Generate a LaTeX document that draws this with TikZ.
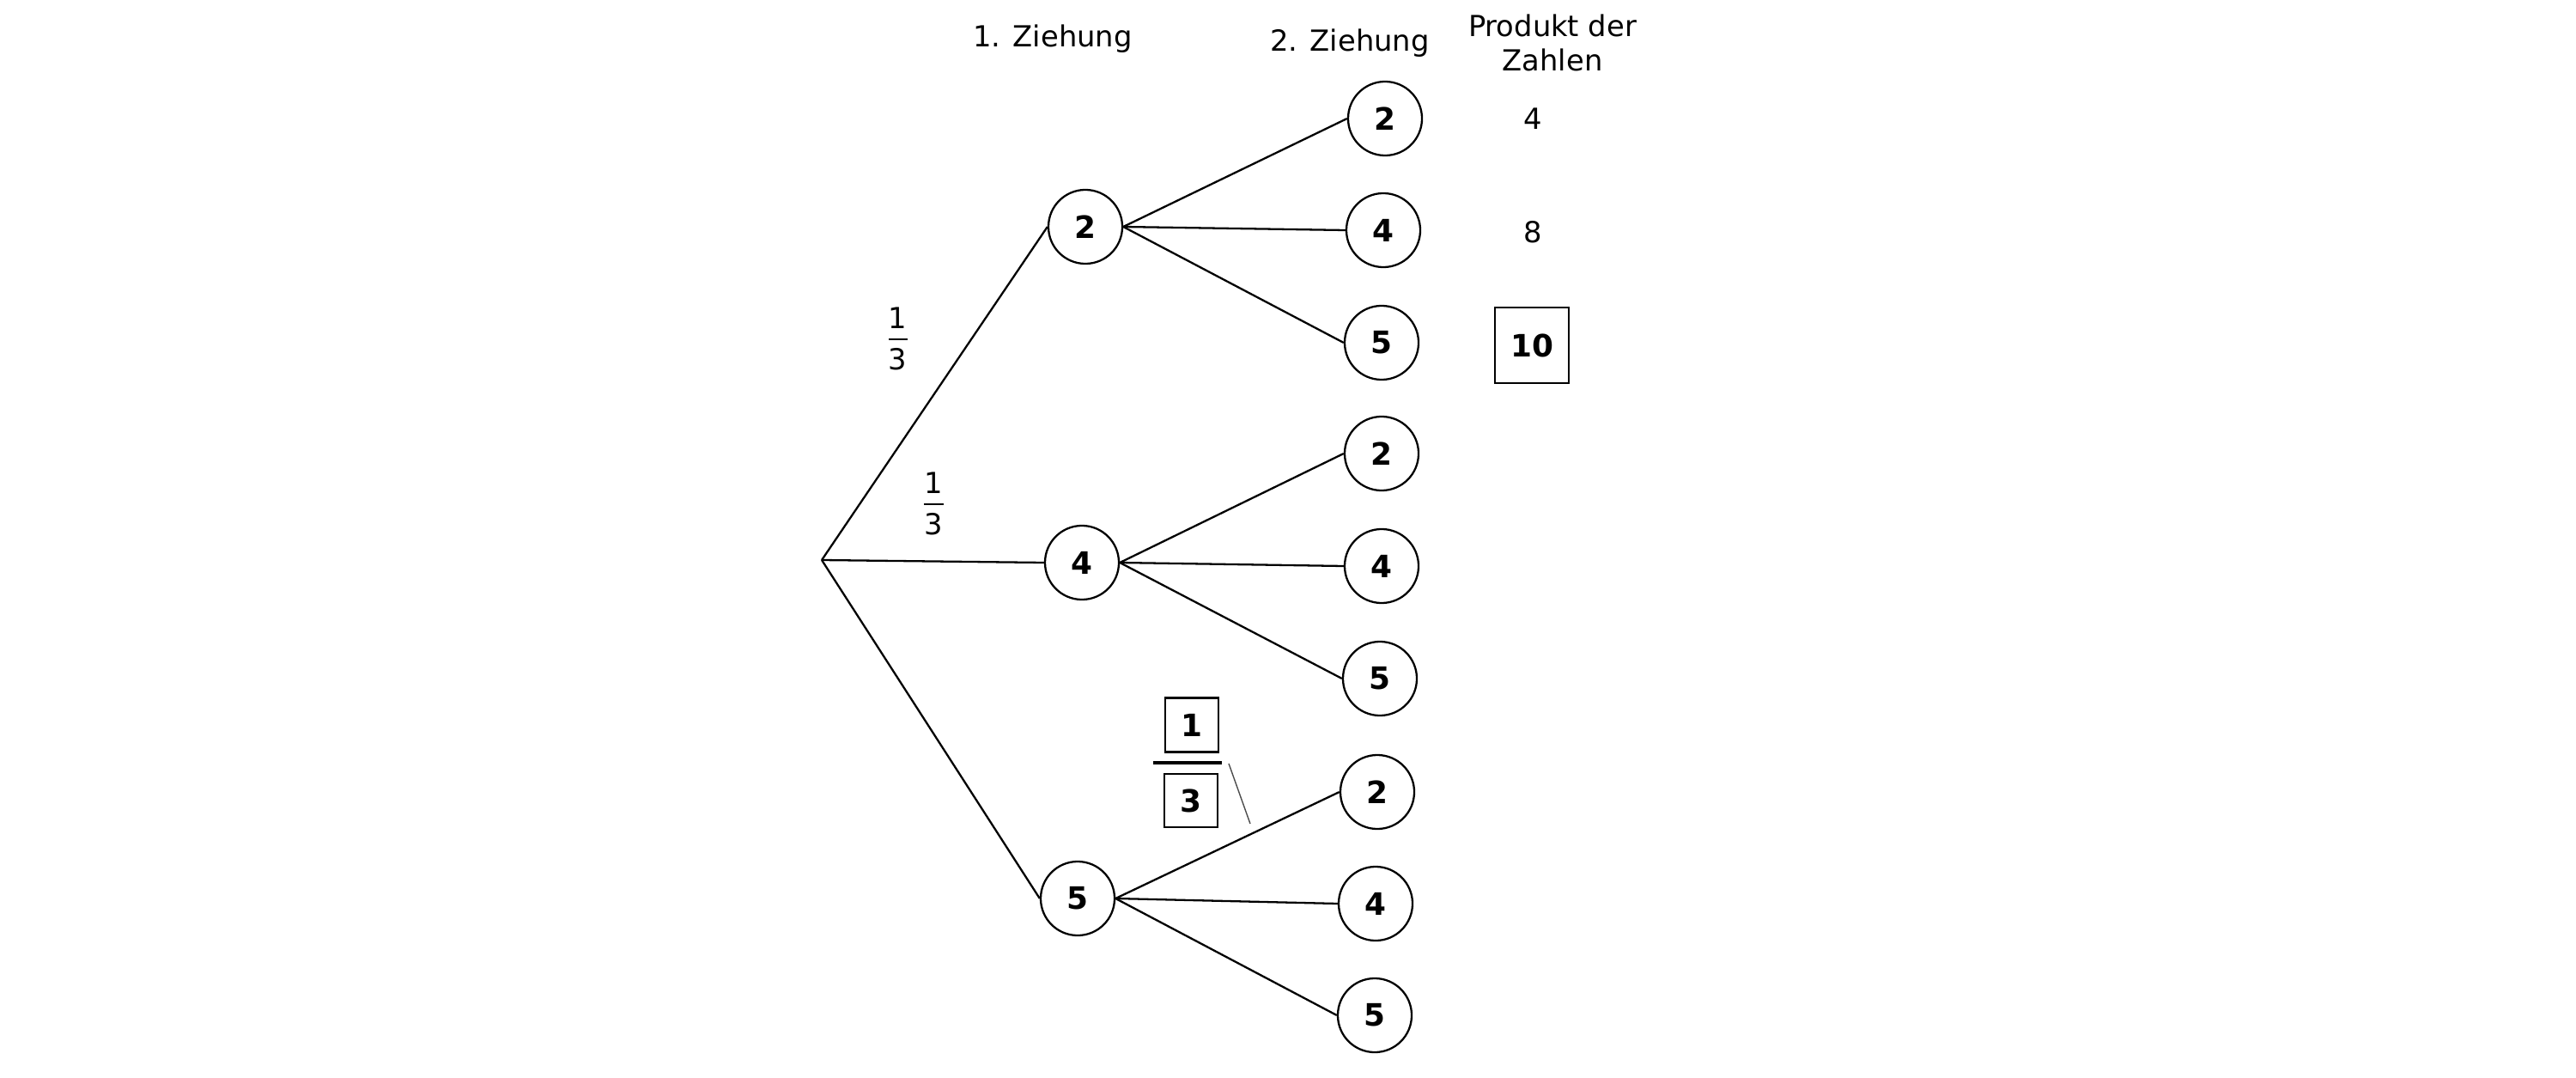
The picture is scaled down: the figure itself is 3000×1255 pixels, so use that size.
\documentclass[tikz,border=0pt]{standalone}
\usepackage{fontspec}
\setmainfont{DejaVu Sans}
\begin{document}
\begin{tikzpicture}[x=0.01cm,y=-0.01cm,
  every node/.style={font=\fontsize{9.6}{11.5}\selectfont, inner sep=0pt},
  num/.style={circle, draw, line width=0.65pt, minimum size=0.86cm, font=\fontsize{10.2}{12}\selectfont\bfseries},
  edge/.style={line width=0.65pt},
  answer/.style={draw, line width=0.65pt, font=\fontsize{10.2}{12}\selectfont\bfseries},
  fracbar/.style={line width=0.4pt}
]
\useasboundingbox (0,0) rectangle (3000,1255);
% headers
\node[anchor=base] (h1) at (1226,55) {1. Ziehung};
\node[anchor=base] (h2) at (1572,60) {2. Ziehung};
\node[anchor=base] (h3a) at (1808,43) {Produkt der};
\node[anchor=base] (h3b) at (1808,83) {Zahlen};
% root
\coordinate (r) at (957,652);
% level 1
\node[num] (A) at (1264,264) {2};
\node[num] (B) at (1260,655) {4};
\node[num] (C) at (1255,1046) {5};
% level 2
\node[num] (AA) at (1613,138) {2};
\node[num] (AB) at (1611,268) {4};
\node[num] (AC) at (1609,399) {5};
\node[num] (BA) at (1609,528) {2};
\node[num] (BB) at (1609,659) {4};
\node[num] (BC) at (1607,790) {5};
\node[num] (CA) at (1604,922) {2};
\node[num] (CB) at (1602,1052) {4};
\node[num] (CC) at (1601,1182) {5};
% edges
\foreach \c in {A,B,C} \draw[edge] (r) -- (\c.west);
\foreach \p in {A,B,C}
  \foreach \c in {A,B,C}
    \draw[edge] (\p.east) -- (\p\c.west);
% products
\node (pa) at (1785,138) {4};
\node (pb) at (1785,270) {8};
\node[answer, minimum width=0.86cm, minimum height=0.88cm] (pc) at (1784,402) {10};
% fractions
\node (f1n) at (1045,370) {1};
\draw[fracbar] (1035,395) -- (1057,395);
\node (f1d) at (1045,418) {3};
\node (f2n) at (1087,562) {1};
\draw[fracbar] (1076,587) -- (1099,587);
\node (f2d) at (1087,610) {3};
% boxed fraction
\node[answer, minimum width=0.62cm, minimum height=0.63cm] (bn) at (1388,844) {1};
\draw[line width=1pt] (1343,888) -- (1423,888);
\node[answer, minimum width=0.62cm, minimum height=0.62cm] (bd) at (1387,932) {3};
\coordinate (m1) at (1431,889);
\coordinate (m2) at (1456,959);
\draw[line width=0.4pt, black!70] (m1) -- (m2);
\end{tikzpicture}
\end{document}
